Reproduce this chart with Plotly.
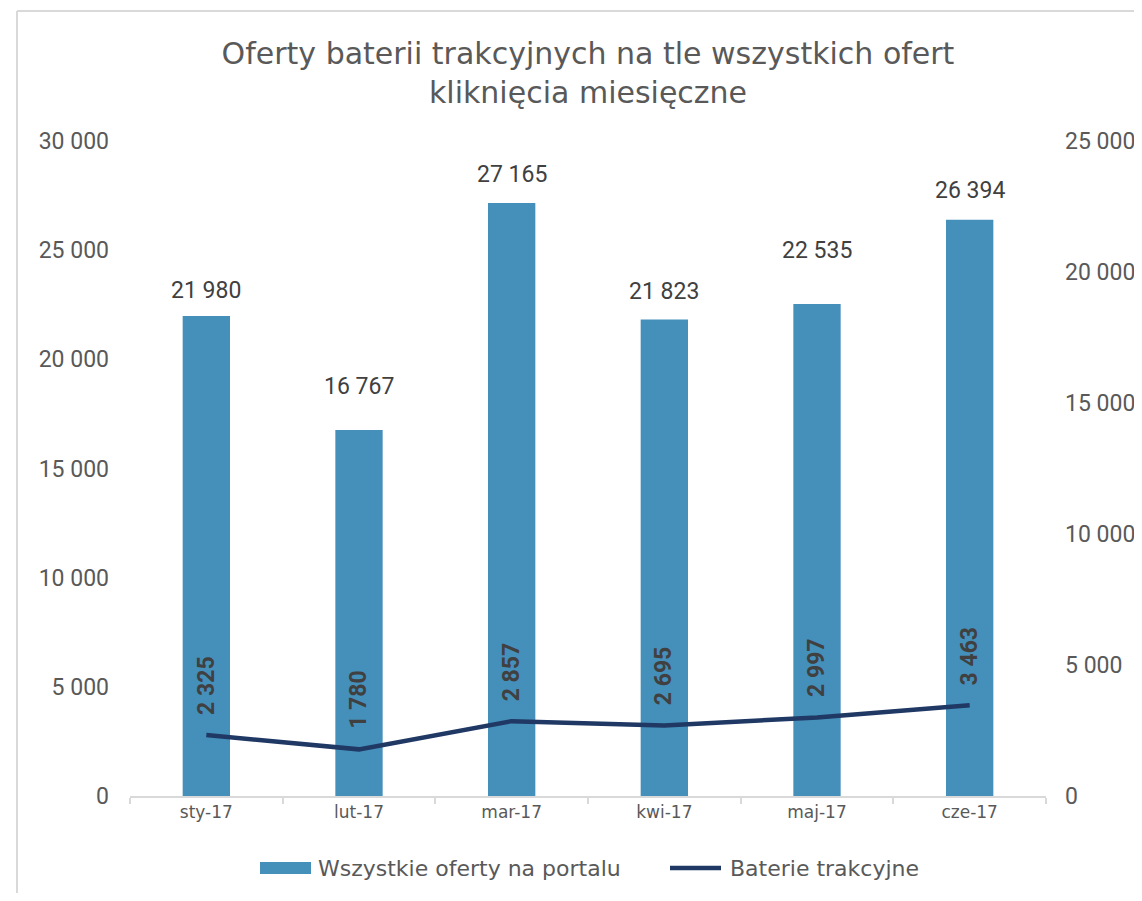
import plotly.graph_objects as go

categories = ["sty-17", "lut-17", "mar-17", "kwi-17", "maj-17", "cze-17"]
all_offers = [21980, 16767, 27165, 21823, 22535, 26394]
batteries = [2325, 1780, 2857, 2695, 2997, 3463]
series_names = ["Wszystkie oferty na portalu", "Baterie trakcyjne"]
title_lines = ["Oferty baterii trakcyjnych na tle wszystkich ofert", "kliknięcia miesięczne"]

# label gap (px) above each bar, as placed in the original
bar_label_gaps = [10, 28, 13, 13, 38, 14]

def fmt(v):
    return f"{v:,}".replace(",", " ")

FONT = "Roboto, Liberation Sans, sans-serif"
FONT_TXT = "DejaVu Sans, Roboto, sans-serif"
BAR_C = "#458FBB"
LINE_C = "#1F3864"
TXT = "#595959"
W, H = 1134, 885
OFF = 8  # page body margin
ML, MT = 130 - OFF, 141 - OFF
MR, MB = W - (1046 - OFF), H - (796 - OFF)
PW, PH = W - ML - MR, H - MT - MB

def px(wx, wy):
    """window pixel -> paper coords"""
    return (wx - OFF - ML) / PW, (796 - wy) / PH

fig = go.Figure()
fig.add_trace(go.Bar(
    x=categories, y=all_offers, name=series_names[0],
    marker=dict(color=BAR_C, line=dict(width=0)), width=0.31, showlegend=False,
))
fig.add_trace(go.Scatter(
    x=categories, y=batteries, name=series_names[1], yaxis="y2",
    mode="lines", line=dict(color=LINE_C, width=4.5), showlegend=False,
))
for c, v, g in zip(categories, all_offers, bar_label_gaps):
    fig.add_annotation(x=c, y=v, xref="x", yref="y", text=fmt(v), showarrow=False,
                       yanchor="bottom", yshift=g,
                       font=dict(size=23, color="#404040", family=FONT))
for c, v in zip(categories, batteries):
    fig.add_annotation(x=c, y=v, xref="x", yref="y2", text=f"<b>{fmt(v)}</b>",
                       textangle=-90, showarrow=False, yanchor="bottom", yshift=18,
                       font=dict(size=23, color="#404040", family=FONT))

# outer frame (top and left edges visible)
x0, y0 = px(17, 11)
x1, _ = px(1160, 11)
_, y1 = px(17, 920)
fig.add_shape(type="line", xref="paper", yref="paper", x0=x0, y0=y0, x1=x1, y1=y0,
              line=dict(color="#D9D9D9", width=2))
fig.add_shape(type="line", xref="paper", yref="paper", x0=x0, y0=y0, x1=x0, y1=y1,
              line=dict(color="#D9D9D9", width=2))

# legend drawn manually
lx0, ly0 = px(260, 862)
lx1, ly1 = px(311, 874)
fig.add_shape(type="rect", xref="paper", yref="paper", x0=lx0, y0=ly0, x1=lx1, y1=ly1,
              fillcolor=BAR_C, line=dict(width=0))
tx, ty = px(316, 868)
fig.add_annotation(xref="paper", yref="paper", x=tx, y=ty, text=series_names[0],
                   showarrow=False, xanchor="left", yanchor="middle",
                   font=dict(size=22, color=TXT, family=FONT_TXT))
sx0, sy = px(670, 868)
sx1, _ = px(721, 868)
fig.add_shape(type="line", xref="paper", yref="paper", x0=sx0, y0=sy, x1=sx1, y1=sy,
              line=dict(color=LINE_C, width=4.5))
tx2, _ = px(728, 868)
fig.add_annotation(xref="paper", yref="paper", x=tx2, y=ty, text=series_names[1],
                   showarrow=False, xanchor="left", yanchor="middle",
                   font=dict(size=22, color=TXT, family=FONT_TXT))

fig.update_layout(
    width=W, height=H, margin=dict(l=ML, r=MR, t=MT, b=MB, autoexpand=False),
    paper_bgcolor="white", plot_bgcolor="white",
    font=dict(family=FONT, color=TXT),
    title=dict(text="<br>".join(title_lines),
               x=(588 - OFF) / W, xanchor="center", y=1 - (64 - OFF) / H, yanchor="middle",
               font=dict(size=30, color=TXT, family=FONT_TXT)),
    xaxis=dict(type="category", showgrid=False, showline=True, linecolor="#D9D9D9", linewidth=2,
               ticks="outside", tickson="boundaries", ticklen=6, tickcolor="#D9D9D9", tickwidth=2,
               tickfont=dict(size=17, color=TXT, family=FONT_TXT), automargin=False),
    yaxis=dict(range=[0, 30000], dtick=5000, showgrid=False, zeroline=False, showline=False,
               tickformat=",d", automargin=False,
               tickfont=dict(size=23, color=TXT, family=FONT), ticklabelstandoff=20),
    yaxis2=dict(range=[0, 25000], dtick=5000, overlaying="y", side="right", showgrid=False,
                zeroline=False, showline=False, tickformat=",d", automargin=False,
                tickfont=dict(size=23, color=TXT, family=FONT), ticklabelstandoff=18),
    separators=". ",
    showlegend=False, bargap=0.69,
)
fig.write_html("out.html")
